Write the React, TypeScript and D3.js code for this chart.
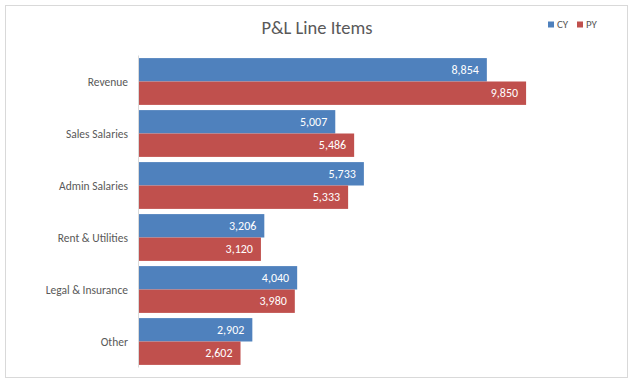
import React from "react";
import * as d3 from "d3";

const categories = ["Revenue", "Sales Salaries", "Admin Salaries", "Rent & Utilities", "Legal & Insurance", "Other"];
const cyValues = [8854, 5007, 5733, 3206, 4040, 2902];
const pyValues = [9850, 5486, 5333, 3120, 3980, 2602];
const seriesNames = ["CY", "PY"];
const colors = ["#4F81BD", "#C0504D"];

const W = 633, H = 382;
const FONT = "Carlito, Calibri, 'Liberation Sans Narrow', 'Liberation Sans', sans-serif";

export default function App() {
  const x0 = 138;
  const x = d3.scaleLinear().domain([0, 10000]).range([x0, x0 + 394]);
  const y = d3.scaleBand<string>().domain(categories).range([55.5, 367.5]).paddingInner(0.1).paddingOuter(0.05);
  const bh = y.bandwidth() / 2;
  const fmt = d3.format(",");
  return (
    <svg width={W} height={H} style={{ position: "absolute", left: 0, top: 0 }} fontFamily={FONT}>
      <rect x={5.5} y={5.5} width={622} height={372} fill="#fff" stroke="#d9d9d9" />
      <text x={317} y={34} textAnchor="middle" fontSize={18.5} fill="#595959">P&amp;L Line Items</text>
      {seriesNames.map((s, i) => (
        <g key={s} transform={`translate(${548 + i * 29},20)`}>
          <rect x={0} y={1.5} width={6} height={6} fill={colors[i]} />
          <text x={9} y={8} fontSize={11} fill="#595959">{s}</text>
        </g>
      ))}
      {categories.map((c, i) => {
        const yy = y(c)!;
        return (
          <g key={c}>
            {[cyValues[i], pyValues[i]].map((v, j) => (
              <g key={j}>
                <rect x={x(0)} y={yy + j * bh} width={x(v) - x(0)} height={bh} fill={colors[j]} />
                <text x={x(v) - 8} y={yy + j * bh + bh / 2} dy="0.35em" textAnchor="end" fontSize={12} fill="#fff">{fmt(v)}</text>
              </g>
            ))}
            <text x={128} y={yy + bh} dy="0.35em" textAnchor="end" fontSize={11.5} fill="#595959">{c}</text>
          </g>
        );
      })}
      <line x1={x0 + 0.5} x2={x0 + 0.5} y1={55.5} y2={367.5} stroke="#d9d9d9" />
    </svg>
  );
}
